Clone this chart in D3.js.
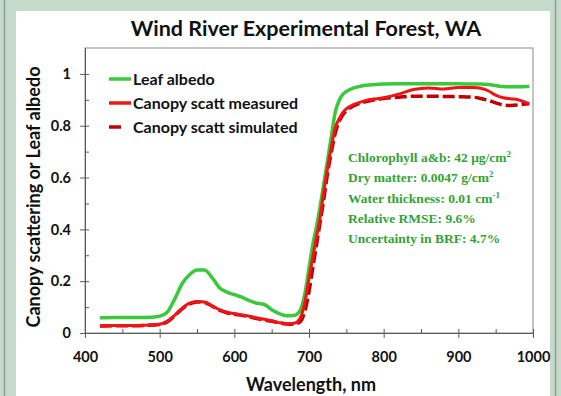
<!DOCTYPE html>
<html>
<head>
<meta charset="utf-8">
<script src="https://cdn.jsdelivr.net/npm/d3@7"></script>
<style>
  body { margin: 0; background: #c6dacb; }
  svg { display: block; }
</style>
</head>
<body>
<script>
// wavelength grid (nm)
const wavelengths = [420, 440, 460, 480, 500, 510, 520, 530, 540, 550, 560, 570, 580, 590, 600,
  610, 620, 630, 640, 650, 660, 670, 680, 685, 690, 695, 700, 705, 710, 715, 720, 725, 730, 735,
  740, 745, 750, 760, 770, 780, 800, 820, 840, 860, 880, 900, 920, 930, 940, 950, 960, 970, 980, 990, 995];

const leafAlbedo = [0.059, 0.06, 0.06, 0.06, 0.065, 0.08, 0.13, 0.19, 0.225, 0.243, 0.243, 0.215,
  0.175, 0.158, 0.148, 0.138, 0.125, 0.115, 0.11, 0.09, 0.075, 0.067, 0.068, 0.075, 0.1, 0.16,
  0.25, 0.34, 0.41, 0.49, 0.58, 0.67, 0.76, 0.85, 0.895, 0.92, 0.932, 0.946, 0.953, 0.957, 0.961,
  0.962, 0.962, 0.962, 0.962, 0.962, 0.961, 0.961, 0.959, 0.955, 0.951, 0.95, 0.95, 0.951, 0.951];

const scattMeasured = [0.028, 0.029, 0.029, 0.03, 0.034, 0.045, 0.068, 0.095, 0.115, 0.122, 0.12,
  0.105, 0.09, 0.08, 0.075, 0.07, 0.065, 0.058, 0.053, 0.047, 0.04, 0.036, 0.038, 0.045, 0.07,
  0.126, 0.21, 0.29, 0.37, 0.45, 0.55, 0.64, 0.72, 0.79, 0.825, 0.85, 0.865, 0.882, 0.892, 0.9,
  0.908, 0.922, 0.94, 0.946, 0.942, 0.948, 0.948, 0.945, 0.935, 0.918, 0.908, 0.904, 0.9, 0.89, 0.885];

const scattSimulated = [0.027, 0.028, 0.028, 0.029, 0.033, 0.043, 0.066, 0.093, 0.112, 0.12, 0.118,
  0.104, 0.088, 0.078, 0.072, 0.068, 0.062, 0.056, 0.05, 0.045, 0.039, 0.035, 0.034, 0.038, 0.05,
  0.09, 0.16, 0.25, 0.34, 0.43, 0.52, 0.62, 0.7, 0.77, 0.815, 0.84, 0.858, 0.877, 0.888, 0.895,
  0.905, 0.91, 0.914, 0.914, 0.913, 0.912, 0.91, 0.905, 0.898, 0.888, 0.88, 0.878, 0.88, 0.884, 0.885];

const seriesNames = ['Leaf albedo', 'Canopy scatt measured', 'Canopy scatt simulated'];
const xTicks = [400, 500, 600, 700, 800, 900, 1000];
const yTicks = [0, 0.2, 0.4, 0.6, 0.8, 1];

const width = 561, height = 396;
const margin = { left: 85, right: 28, top: 48, bottom: 63 };

const svg = d3.select('body').append('svg')
  .attr('width', width)
  .attr('height', height);

// FRAME
svg.append('rect').attr('width', width).attr('height', height).attr('fill', '#c6dacb');
svg.append('rect').attr('x', 16).attr('y', 11).attr('width', 534).attr('height', 390).attr('fill', '#fff');
svg.append('line').attr('x1', 4.5).attr('x2', 4.5).attr('y1', 0).attr('y2', height)
  .attr('stroke', '#8c9c90').attr('stroke-width', 1.5);
svg.append('line').attr('x1', 555.5).attr('x2', 555.5).attr('y1', 0).attr('y2', height)
  .attr('stroke', '#8c9c90').attr('stroke-width', 1.5);

const x = d3.scaleLinear().domain([400, 1000]).range([margin.left, width - margin.right]);
const y = d3.scaleLinear().domain([0, 1.1]).range([height - margin.bottom, margin.top]);

// plot border
svg.append('rect')
  .attr('x', x(400)).attr('y', y(1.1))
  .attr('width', x(1000) - x(400)).attr('height', y(0) - y(1.1))
  .attr('fill', 'none').attr('stroke', '#8a8a8a').attr('stroke-width', 1);

// AXES
const axisFont = 'Lato, "DejaVu Sans", sans-serif';
svg.append('g')
  .attr('transform', `translate(0,${y(0)})`)
  .call(d3.axisBottom(x).tickValues(xTicks).tickSize(5).tickPadding(14).tickSizeOuter(0)
    .tickFormat(d3.format('d')));
svg.append('g')
  .attr('transform', `translate(0,${y(0)})`)
  .call(d3.axisBottom(x).tickValues(d3.range(400, 1001, 50)).tickSize(-4).tickFormat('').tickSizeOuter(0));

svg.append('g')
  .attr('transform', `translate(${x(400)},0)`)
  .call(d3.axisLeft(y).tickValues(yTicks).tickSize(5).tickPadding(9).tickSizeOuter(0)
    .tickFormat(d => d === 0 || d === 1 ? d3.format('d')(d) : d3.format('.1f')(d)));
svg.append('g')
  .attr('transform', `translate(${x(400)},0)`)
  .call(d3.axisLeft(y).tickValues(d3.range(0, 1.05, 0.1)).tickSize(-4).tickFormat('').tickSizeOuter(0));

svg.selectAll('.domain, .tick line').attr('stroke', '#5a5a5a');
svg.selectAll('.tick text')
  .attr('fill', '#111')
  .style('font-family', axisFont)
  .style('font-weight', 'bold')
  .style('font-size', '14.5px');

// TITLE AND AXIS LABELS
svg.append('text')
  .attr('x', 306).attr('y', 36)
  .attr('text-anchor', 'middle')
  .style('font-family', axisFont).style('font-weight', 'bold').style('font-size', '21.5px')
  .attr('fill', '#111')
  .text('Wind River Experimental Forest, WA');

svg.append('text')
  .attr('x', 311).attr('y', 391)
  .attr('text-anchor', 'middle')
  .style('font-family', axisFont).style('font-weight', 'bold').style('font-size', '18px')
  .attr('fill', '#111')
  .text('Wavelength, nm');

svg.append('text')
  .attr('transform', 'translate(40,197) rotate(-90)')
  .attr('text-anchor', 'middle')
  .style('font-family', axisFont).style('font-weight', 'bold').style('font-size', '18px')
  .attr('fill', '#111')
  .text('Canopy scattering or Leaf albedo');

// LINES
const colors = ['#3cc83c', '#ee1515', '#bf0000'];
const line = vals => d3.line()
  .x((d, i) => x(wavelengths[i]))
  .y(d => y(d))
  .curve(d3.curveMonotoneX)(vals);

svg.append('path').attr('d', line(leafAlbedo))
  .attr('fill', 'none').attr('stroke', colors[0]).attr('stroke-width', 3.5);
svg.append('path').attr('d', line(scattSimulated))
  .attr('fill', 'none').attr('stroke', colors[2]).attr('stroke-width', 3.5)
  .attr('stroke-dasharray', '12,4');
svg.append('path').attr('d', line(scattMeasured))
  .attr('fill', 'none').attr('stroke', colors[1]).attr('stroke-width', 3);

// LEGEND
const legend = svg.append('g');
seriesNames.forEach((name, i) => {
  const ly = 79 + i * 24;
  legend.append('line')
    .attr('x1', 109).attr('x2', i === 2 ? 121 : 131)
    .attr('y1', ly).attr('y2', ly)
    .attr('stroke', colors[i]).attr('stroke-width', 3.5);
  legend.append('text')
    .attr('x', 133).attr('y', ly + 6)
    .style('font-family', axisFont).style('font-weight', 'bold').style('font-size', '16px')
    .attr('fill', '#111')
    .text(name);
});

// ANNOTATION
const note = svg.append('text')
  .style('font-family', '"Liberation Serif", "Times New Roman", serif')
  .style('font-weight', 'bold').style('font-size', '13.5px')
  .attr('fill', '#33a333');
const noteLines = [
  ['Chlorophyll a&b: 42 \u03bcg/cm', '2'],
  ['Dry matter: 0.0047 g/cm', '2'],
  ['Water thickness: 0.01 cm', '-1'],
  ['Relative RMSE: 9.6%', ''],
  ['Uncertainty in BRF: 4.7%', '']
];
noteLines.forEach((l, i) => {
  note.append('tspan').attr('x', 348).attr('y', 162 + i * 20.3).text(l[0]);
  if (l[1]) {
    note.append('tspan').attr('dy', -5).style('font-size', '9px').text(l[1]);
  }
});
</script>
</body>
</html>
